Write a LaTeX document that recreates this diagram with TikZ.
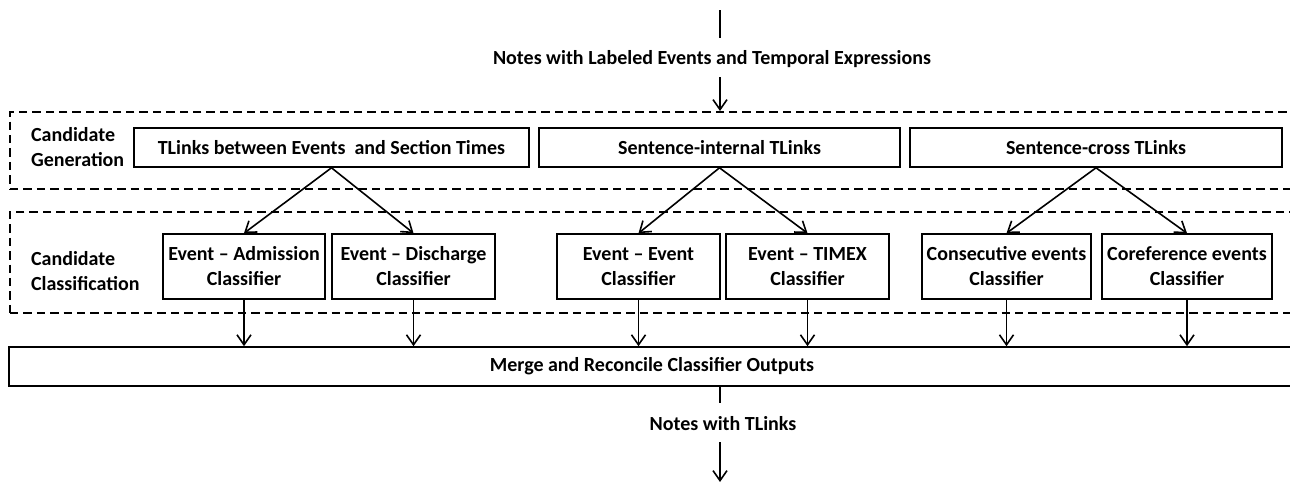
\documentclass[tikz,border=0pt]{standalone}
\usepackage{fontspec}
\setmainfont{Carlito}
\usetikzlibrary{arrows.meta}

\begin{document}
\begin{tikzpicture}[x=0.5pt, y=-0.5pt,
        box/.style={draw, line width=0.8pt, inner sep=0pt, align=center},
        frame/.style={draw, line width=1pt, dash pattern=on 4.2pt off 2.5pt, inner sep=0pt},
        stage/.style={anchor=west, align=left},
        vector/.style={->, line width=0.8pt},
        >={Straight Barb[length=5pt,width=7pt]},
        every node/.style={font=\bfseries\fontsize{10}{12.5}\selectfont}]
    \useasboundingbox (0,0) rectangle (1290,483);

    % dashed stage frames
    \node[frame, minimum width=645pt, minimum height=38.5pt] (genframe) at (655,150.5) {};
    \node[frame, minimum width=645pt, minimum height=50.5pt] (clsframe) at (655,262.5) {};
    \node[stage] (genlabel) at (24,147.5) {Candidate\\Generation};
    \node[stage] (clslabel) at (24,271) {Candidate\\Classification};

    % candidate generation
    \node[box, minimum width=197.5pt, minimum height=19.5pt] (gen1) at (331.5,147.5) {TLinks between Events~ and Section Times};
    \node[box, minimum width=180.5pt, minimum height=19.5pt] (gen2) at (719.5,147.5) {Sentence-internal TLinks};
    \node[box, minimum width=186pt, minimum height=19.5pt] (gen3) at (1096,147.5) {Sentence-cross TLinks};

    % classifiers
    \node[box, minimum width=81pt, minimum height=32.5pt] (adm) at (244,266.5) {Event -- Admission\\Classifier};
    \node[box, minimum width=81.5pt, minimum height=32.5pt] (dis) at (413.5,266.5) {Event -- Discharge\\Classifier};
    \node[box, minimum width=81.5pt, minimum height=32.5pt] (ee) at (638.5,266.5) {Event -- Event\\Classifier};
    \node[box, minimum width=81.5pt, minimum height=32.5pt] (tmx) at (807.5,266.5) {Event -- TIMEX\\Classifier};
    \node[box, minimum width=84.5pt, minimum height=32.5pt] (cons) at (1006.5,266.5) {Consecutive events\\Classifier};
    \node[box, minimum width=85pt, minimum height=32.5pt] (coref) at (1187,266.5) {Coreference events\\Classifier};

    \node[box, minimum width=643pt, minimum height=19.5pt] (merge) at (652,366.5) {Merge and Reconcile Classifier Outputs};

    % input and output
    \coordinate (in) at (720,10);
    \coordinate (inend) at (720,38);
    \node (notesin) at (712,59) {Notes with Labeled Events and Temporal Expressions};
    \coordinate (arrowin) at (720,77);
    \coordinate (outend) at (720,403);
    \node (notesout) at (723,424) {Notes with TLinks};
    \coordinate (arrowout) at (720,442);
    \coordinate (out) at (720,482);

    \draw[line width=0.8pt] (in) -- (inend);
    \draw[vector] (arrowin) -- (arrowin |- genframe.north);

    \foreach \src/\dst in {gen1/adm, gen1/dis, gen2/ee, gen2/tmx, gen3/cons, gen3/coref}
        \draw[vector] (\src.south) -- (\dst.north);
    \foreach \dst in {adm, dis, ee, tmx, cons, coref}
        \draw[vector] (\dst.south) -- (\dst.south |- merge.north);

    \draw[line width=0.8pt] (merge.south -| in) -- (outend);
    \draw[vector] (arrowout) -- (out);
\end{tikzpicture}
\end{document}
